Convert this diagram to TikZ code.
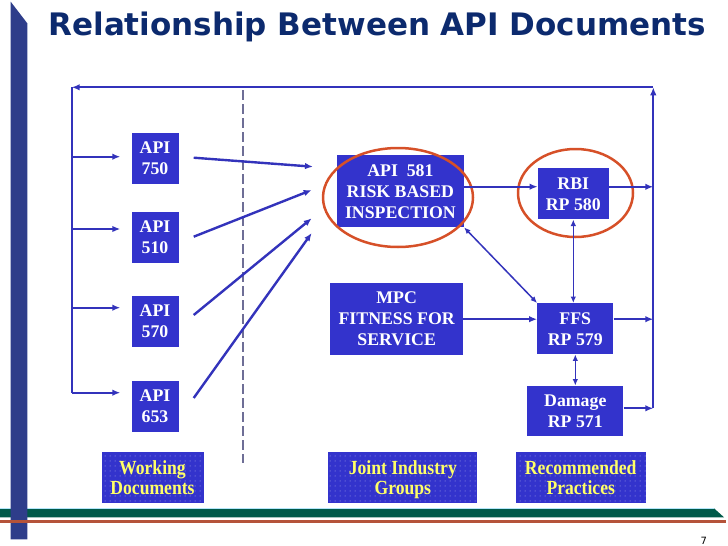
\documentclass[tikz,border=0pt]{standalone}
\usepackage{fontspec}
\usepackage{xcolor}
\usetikzlibrary{arrows.meta}
\usetikzlibrary{patterns.meta}
\usetikzlibrary{calc}
\usetikzlibrary{positioning}
\setmainfont{Liberation Serif}
\newfontfamily\titlefont{DejaVu Sans}
\newfontfamily\narrowfont[FakeStretch=0.88]{Liberation Serif}
\definecolor{boxblue}{RGB}{51,51,204}
\definecolor{lineblue}{RGB}{51,51,187}
\definecolor{titleblue}{RGB}{12,42,110}
\definecolor{barblue}{RGB}{46,61,138}
\definecolor{bandgreen}{RGB}{0,90,74}
\definecolor{bandred}{RGB}{181,83,58}
\definecolor{ringred}{RGB}{214,80,40}
\definecolor{labelyellow}{RGB}{255,255,102}
\definecolor{dashgrey}{RGB}{110,110,150}
\tikzset{
	doc/.style={fill=boxblue,text=white,font=\fontsize{17.8}{21}\selectfont\bfseries,align=center,inner sep=0pt},
	group/.style={fill=boxblue,postaction={pattern={Dots[distance=5pt,radius=0.5pt]},pattern color=white!60!boxblue},
		text=labelyellow,font=\narrowfont\fontsize{20}{20}\selectfont\bfseries,align=center,inner sep=0pt,minimum height=51pt,
		text depth=0pt},
	flow/.style={draw=lineblue,line width=2pt,-{Latex[length=8pt,width=6.5pt]}},
	link/.style={draw=lineblue,line width=1.5pt,{Latex[length=6.5pt,width=5.5pt]}-{Latex[length=6.5pt,width=5.5pt]}},
	ring/.style={draw=ringred,line width=2.5pt}
}
\begin{document}
\begin{tikzpicture}[x=1pt,y=-1pt]
		\useasboundingbox (0,0) rectangle (728,546);
		\fill[bandgreen] (0,508.3) -- (714,508.3) -- (724,517.3) -- (0,517.3) -- cycle;
		\draw[cyan!30,line width=0.6pt] (0,508.3) -- (714,508.3);
		\fill[barblue] (10.7,1.7) -- (27.3,23.3) -- (27.3,539.3) -- (10.7,539.3) -- cycle;
		\fill[bandred] (0,520) rectangle (726,522.7);
		\node[anchor=base west,inner sep=0pt,text=titleblue,font=\titlefont\fontsize{31}{31}\selectfont\bfseries] (title) at (48.3,35) {Relationship Between API Documents};
		\node[anchor=base east,inner sep=0pt,font=\titlefont\fontsize{10}{10}\selectfont] (page) at (707.3,544) {7};
		\draw[dashgrey,line width=1.2pt,dash pattern=on 10pt off 4pt] (243,90) -- (243,463);

		\foreach \n/\y in {750/158.5,510/237.2,570/321.5,653/406}
		{
			\node[doc,minimum width=47pt,minimum height=51pt] (api\n) at (155,\y) {API\\\n};
		}
		\node[doc,minimum width=127pt,minimum height=72pt] (api581) at (400.4,191.2) {API\ \ 581\\RISK BASED\\INSPECTION};
		\node[doc,minimum width=71pt,minimum height=51pt] (rbi) at (573.3,193.8) {RBI\\RP 580};
		\node[doc,minimum width=133pt,minimum height=72pt] (mpc) at (396.7,319.2) {MPC\\FITNESS FOR\\SERVICE};
		\node[doc,minimum width=76pt,minimum height=51pt] (ffs) at (575.3,328.7) {FFS\\RP 579};
		\node[doc,minimum width=96pt,minimum height=50pt] (dmg) at (575.3,410.8) {Damage\\RP 571};

		\node[group,minimum width=102pt] (work) at (152.5,477.8) {Working\\Documents};
		\node[group,minimum width=149pt] (joint) at (402.8,477.8) {Joint Industry\\Groups};
		\node[group,minimum width=130pt] (recom) at (580.7,477.8) {Recommended\\Practices};

		\draw[ring] (398,197.5) ellipse [x radius=75,y radius=49.5];
		\draw[ring] (575.5,193) ellipse [x radius=57.5,y radius=44];

		\coordinate (rtop) at (653.3,87.3);
		\coordinate (rbot) at (653.3,408.3);
		\coordinate (ltop) at (71.7,87.3);
		\coordinate (lbot) at (71.7,392.7);
		\draw[flow] (rbot) -- (rtop);
		\draw[flow] (rtop) -- (ltop);
		\draw[lineblue,line width=2pt] (ltop) -- (lbot);
		\foreach \n/\s in {750/1.8,510/8.2,570/13.8,653/13.3}
		{
			\coordinate (b\n) at ($(api\n.west)+(0,-\s)$);
			\draw[flow,shorten >=11pt] (ltop |- b\n) -- (b\n);
		}
		\foreach \n/\s/\ex/\ey in {750/0.8/313/166.7,510/0.5/311.7/190,570/6.5/311.7/218.3,653/8/311.7/233}
		{
			\coordinate (s\n) at ($(api\n.east)+(15,-\s)$);
			\coordinate (e\n) at (\ex,\ey);
			\draw[flow,line width=2.4pt] (s\n) -- (e\n);
		}

		\coordinate (a1) at ($(api581.east)+(0,-4.5)$);
		\draw[flow] (a1) -- (a1 -| rbi.west);
		\coordinate (a2) at ($(rbi.east)+(0,-7)$);
		\draw[flow] (a2) -- (a2 -| rtop);
		\draw[flow] (mpc.east) -- (mpc.east -| ffs.west);
		\draw[flow] (ffs.east |- mpc.east) -- (mpc.east -| rtop);
		\coordinate (a3) at ($(dmg.east)+(0,-2.5)$);
		\draw[flow] (a3) -- (a3 -| rtop);
		\draw[link] (rbi.south) -- (rbi.south |- ffs.north);
		\draw[link] (ffs.south) -- (dmg.north);
		\draw[link] (api581.south east) -- (ffs.north west);
\end{tikzpicture}
\end{document}
